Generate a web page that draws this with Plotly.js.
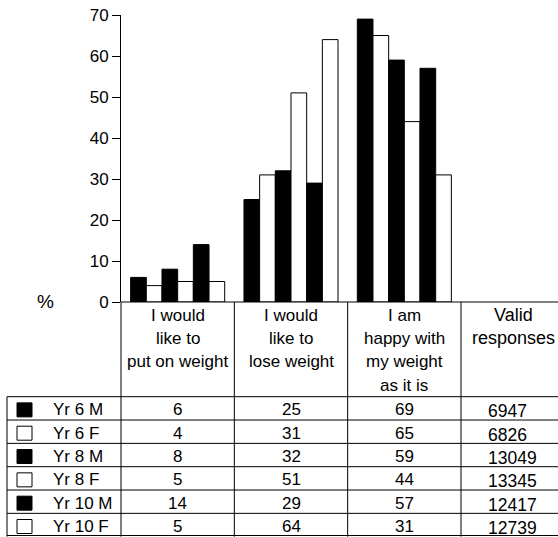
<!DOCTYPE html>
<html>
<head>
<meta charset="utf-8">
<script src="https://cdn.plot.ly/plotly-3.0.1.min.js"></script>
<style>
  html, body { margin: 0; padding: 0; background: #fff; }
  #chart { width: 558px; height: 537px; }
</style>
</head>
<body>
<div id="chart"></div>
<script>
// ---------------- data ----------------
const categories = ["Put on weight", "Lose weight", "Happy as is"];
const headerLines = [
  ["I would", "like to", "put on weight"],
  ["I would", "like to", "lose weight"],
  ["I am", "happy with", "my weight", "as it is"]
];
const validHeader = ["Valid", "responses"];
const seriesNames = ["Yr 6 M", "Yr 6 F", "Yr 8 M", "Yr 8 F", "Yr 10 M", "Yr 10 F"];
const putOnWeight = [6, 4, 8, 5, 14, 5];
const loseWeight  = [25, 31, 32, 51, 29, 64];
const happyWeight = [69, 65, 59, 44, 57, 31];
const validResponses = [6947, 6826, 13049, 13345, 12417, 12739];
const yTicks = [0, 10, 20, 30, 40, 50, 60, 70];

// ---------------- styling / layout ----------------
const seriesFill = ["#000000", "#ffffff", "#000000", "#ffffff", "#000000", "#ffffff"];
const FONT = "Arial, 'Liberation Sans', sans-serif";
const W = 558, H = 537;
const M = { l: 121, r: 97, t: 15, b: 235 };
const plotW = W - M.l - M.r, plotH = H - M.t - M.b;
const px2x = px => (px - M.l) / plotW;
const px2y = py => (H - M.b - py) / plotH;

const valuesByCat = [putOnWeight, loseWeight, happyWeight];

const traces = seriesNames.map((name, s) => ({
  type: "bar",
  name: name,
  x: categories,
  y: valuesByCat.map(arr => arr[s]),
  marker: { color: seriesFill[s], line: { color: "#000", width: 1 } },
  hoverinfo: "x+y+name"
}));

const shapes = [];
const annotations = [];
const line = { color: "#000", width: 1 };

// x axis baseline extended to the right edge
shapes.push({ type: "line", xref: "paper", yref: "paper", x0: 0, x1: px2x(W), y0: 0, y1: 0, line });

// table geometry
const headerBottom = 396.7;
const rowH = 23.33;
const tableBottom = headerBottom + rowH * seriesNames.length;
const tableLeft = 7;

// column boundaries (category edges)
const nCat = categories.length;
for (let i = 0; i <= nCat; i++) {
  shapes.push({ type: "line", xref: "paper", yref: "paper",
    x0: i / nCat, x1: i / nCat, y0: 0, y1: px2y(tableBottom), line });
}
// left border of row area
shapes.push({ type: "line", xref: "paper", yref: "paper",
  x0: px2x(tableLeft), x1: px2x(tableLeft), y0: px2y(headerBottom), y1: px2y(tableBottom), line });
// row lines
for (let r = 0; r <= seriesNames.length; r++) {
  const yy = Math.min(headerBottom + rowH * r, H - 1.5);
  shapes.push({ type: "line", xref: "paper", yref: "paper",
    x0: px2x(tableLeft), x1: px2x(W), y0: px2y(yy), y1: px2y(yy), line });
}

// header texts
const headerY = [315, 338.3, 361.7, 385];
headerLines.forEach((lines, c) => {
  lines.forEach((t, k) => {
    annotations.push({ xref: "x", yref: "paper", x: categories[c], y: px2y(headerY[k]),
      text: t, showarrow: false, xanchor: "center", yanchor: "middle",
      font: { family: FONT, size: 17, color: "#000" } });
  });
});
validHeader.forEach((t, k) => {
  annotations.push({ xref: "paper", yref: "paper", x: px2x(513), y: px2y(headerY[k] - 0.5),
    text: t, showarrow: false, xanchor: "center", yanchor: "middle",
    font: { family: FONT, size: 18, color: "#000" } });
});

// % label
annotations.push({ xref: "paper", yref: "paper", x: px2x(45), y: px2y(301),
  text: "%", showarrow: false, xanchor: "center", yanchor: "middle",
  font: { family: FONT, size: 19, color: "#000" } });

// rows
seriesNames.forEach((name, r) => {
  const cy = headerBottom + rowH * (r + 0.5) + 1.5;
  // legend box
  shapes.push({ type: "rect", xref: "paper", yref: "paper",
    x0: px2x(17), x1: px2x(32), y0: px2y(cy - 7), y1: px2y(cy + 7),
    fillcolor: seriesFill[r], line: { color: "#000", width: 1 } });
  annotations.push({ xref: "paper", yref: "paper", x: px2x(51), y: px2y(cy),
    text: name, showarrow: false, xanchor: "left", yanchor: "middle",
    font: { family: FONT, size: 17, color: "#000" } });
  valuesByCat.forEach((arr, c) => {
    annotations.push({ xref: "x", yref: "paper", x: categories[c], y: px2y(cy),
      text: String(arr[r]), showarrow: false, xanchor: "center", yanchor: "middle",
      font: { family: FONT, size: 17, color: "#000" } });
  });
  annotations.push({ xref: "paper", yref: "paper", x: px2x(486), y: px2y(cy + 1.5),
    text: String(validResponses[r]), showarrow: false, xanchor: "left", yanchor: "middle",
    font: { family: FONT, size: 17.5, color: "#000" } });
});

const layout = {
  width: W, height: H,
  margin: M,
  paper_bgcolor: "#fff", plot_bgcolor: "#fff",
  showlegend: false,
  barmode: "group",
  bargap: 0.17,
  bargroupgap: 0,
  font: { family: FONT, color: "#000" },
  xaxis: {
    type: "category",
    categoryarray: categories,
    showticklabels: false, ticks: "", showline: false, showgrid: false, zeroline: false,
    fixedrange: true
  },
  yaxis: {
    range: [0, 70],
    tickvals: yTicks,
    ticktext: yTicks.map(String),
    ticks: "outside", ticklen: 8, tickcolor: "#000", tickwidth: 1,
    showline: true, linecolor: "#000", linewidth: 1,
    showgrid: false, zeroline: false,
    tickfont: { family: FONT, size: 17, color: "#000" },
    fixedrange: true
  },
  shapes: shapes,
  annotations: annotations
};

Plotly.newPlot("chart", traces, layout, { displayModeBar: false, staticPlot: true });
</script>
</body>
</html>
